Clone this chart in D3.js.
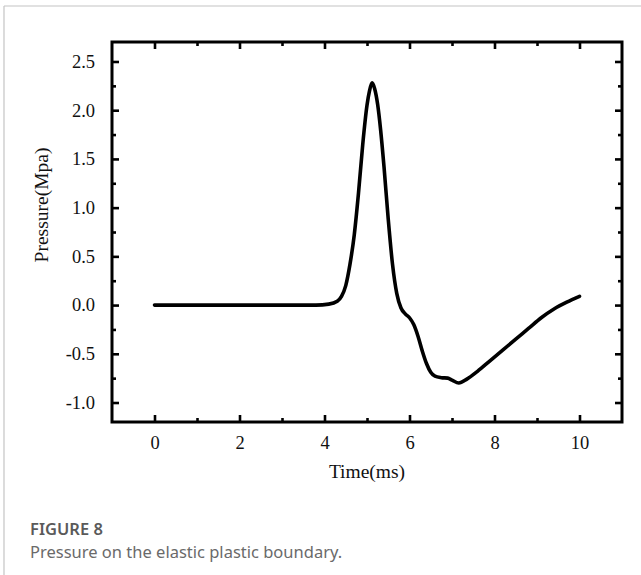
<!DOCTYPE html>
<html>
<head>
<meta charset="utf-8">
<script src="https://cdn.jsdelivr.net/npm/d3@7"></script>
<style>
  html, body { margin: 0; padding: 0; background: #fff; }
  svg { display: block; }
</style>
</head>
<body>
<svg id="chart" width="641" height="575"></svg>
<script>
// Pressure history on the elastic-plastic boundary
const timeMs = [0, 1, 2, 3, 3.8, 4.1, 4.3, 4.4, 4.5, 4.6, 4.7, 4.8, 4.9, 5.0, 5.06, 5.12, 5.18,
  5.25, 5.32, 5.4, 5.5, 5.6, 5.7, 5.8, 5.9, 6.0, 6.1, 6.2, 6.3, 6.4, 6.5, 6.6, 6.75, 6.9, 7.0,
  7.16, 7.35, 7.6, 7.9, 8.2, 8.5, 8.8, 9.1, 9.4, 9.7, 10.0];
const pressureMpa = [0, 0, 0, 0, 0, 0.01, 0.04, 0.09, 0.2, 0.42, 0.72, 1.15, 1.65, 2.05, 2.2, 2.28, 2.22,
  2.06, 1.8, 1.42, 0.88, 0.42, 0.12, -0.03, -0.09, -0.13, -0.2, -0.32, -0.47, -0.6, -0.69, -0.73, -0.745, -0.75, -0.77,
  -0.8, -0.76, -0.68, -0.57, -0.46, -0.35, -0.24, -0.13, -0.04, 0.03, 0.09];

const xMajorTicks = [0, 2, 4, 6, 8, 10];
const xMinorTicks = [1, 3, 5, 7, 9];
const yMajorTicks = [-1.0, -0.5, 0.0, 0.5, 1.0, 1.5, 2.0, 2.5];
const yMinorTicks = [-0.75, -0.25, 0.25, 0.75, 1.25, 1.75, 2.25];

const xTitle = "Time(ms)";
const yTitle = "Pressure(Mpa)";
const figLabel = "FIGURE 8";
const figCaption = "Pressure on the elastic plastic boundary.";

const svg = d3.select("#chart");

// card outline (top and left edges)
svg.append("line").attr("x1", 4).attr("x2", 641).attr("y1", 6).attr("y2", 6)
  .attr("stroke", "#c4c4c4").attr("stroke-width", 1.2);
svg.append("line").attr("x1", 4).attr("x2", 4).attr("y1", 6).attr("y2", 575)
  .attr("stroke", "#c4c4c4").attr("stroke-width", 1.2);

const frame = { left: 112, right: 622, top: 42, bottom: 422 };

const x = d3.scaleLinear().domain([-1, 11]).range([frame.left, frame.right]);
const y = d3.scaleLinear().domain([-1.2, 2.7]).range([frame.bottom, frame.top]);

const serif = "'Liberation Serif', 'Times New Roman', serif";
const majorLen = 7, minorLen = 4;

// inward ticks on all four sides
function tickAxis(axisGen, transform) {
  const g = svg.append("g").attr("transform", transform).call(axisGen);
  g.select(".domain").remove();
  g.selectAll(".tick line").attr("stroke", "#000").attr("stroke-width", 2.6);
  return g;
}

// bottom
const bottomMajor = tickAxis(d3.axisBottom(x).tickValues(xMajorTicks).tickSize(-majorLen).tickPadding(14)
  .tickFormat(d3.format("d")), `translate(0,${frame.bottom})`);
bottomMajor.selectAll("text").attr("font-family", serif).attr("font-size", 18.5).attr("fill", "#111");
tickAxis(d3.axisBottom(x).tickValues(xMinorTicks).tickSize(-minorLen).tickFormat(""),
  `translate(0,${frame.bottom})`);
// top
tickAxis(d3.axisTop(x).tickValues(xMajorTicks).tickSize(-majorLen).tickFormat(""), `translate(0,${frame.top})`);
tickAxis(d3.axisTop(x).tickValues(xMinorTicks).tickSize(-minorLen).tickFormat(""), `translate(0,${frame.top})`);
// left
const leftMajor = tickAxis(d3.axisLeft(y).tickValues(yMajorTicks).tickSize(-majorLen).tickPadding(17)
  .tickFormat(d => d3.format(".1f")(d).replace("−", "-")), `translate(${frame.left},0)`);
leftMajor.selectAll("text").attr("font-family", serif).attr("font-size", 18.5).attr("fill", "#111");
tickAxis(d3.axisLeft(y).tickValues(yMinorTicks).tickSize(-minorLen).tickFormat(""), `translate(${frame.left},0)`);
// right
tickAxis(d3.axisRight(y).tickValues(yMajorTicks).tickSize(-majorLen).tickFormat(""), `translate(${frame.right},0)`);
tickAxis(d3.axisRight(y).tickValues(yMinorTicks).tickSize(-minorLen).tickFormat(""), `translate(${frame.right},0)`);

// frame
svg.append("rect")
  .attr("x", frame.left).attr("y", frame.top)
  .attr("width", frame.right - frame.left).attr("height", frame.bottom - frame.top)
  .attr("fill", "none").attr("stroke", "#000").attr("stroke-width", 3);

// curve
const line = d3.line()
  .x((d, i) => x(timeMs[i]))
  .y(d => y(d))
  .curve(d3.curveMonotoneX);
svg.append("path")
  .datum(pressureMpa)
  .attr("d", line)
  .attr("fill", "none")
  .attr("stroke", "#000")
  .attr("stroke-width", 3.6)
  .attr("stroke-linejoin", "round")
  .attr("stroke-linecap", "round");

// axis titles
svg.append("text")
  .attr("x", (frame.left + frame.right) / 2).attr("y", 478)
  .attr("text-anchor", "middle")
  .attr("font-family", serif).attr("font-size", 19.5).attr("fill", "#111")
  .text(xTitle);
svg.append("text")
  .attr("transform", "translate(48,205) rotate(-90)")
  .attr("text-anchor", "middle")
  .attr("font-family", serif).attr("font-size", 19.5).attr("fill", "#111")
  .text(yTitle);

// figure caption
svg.append("text")
  .attr("x", 30).attr("y", 535)
  .attr("font-family", "'Noto Sans', 'Open Sans', sans-serif")
  .attr("font-size", 16.5).attr("font-weight", 600).attr("fill", "#5a5a5a")
  .text(figLabel);
svg.append("text")
  .attr("x", 30).attr("y", 558)
  .attr("font-family", "'Noto Sans', 'Open Sans', sans-serif")
  .attr("font-size", 16.5).attr("fill", "#6a6a6a")
  .text(figCaption);
</script>
</body>
</html>
